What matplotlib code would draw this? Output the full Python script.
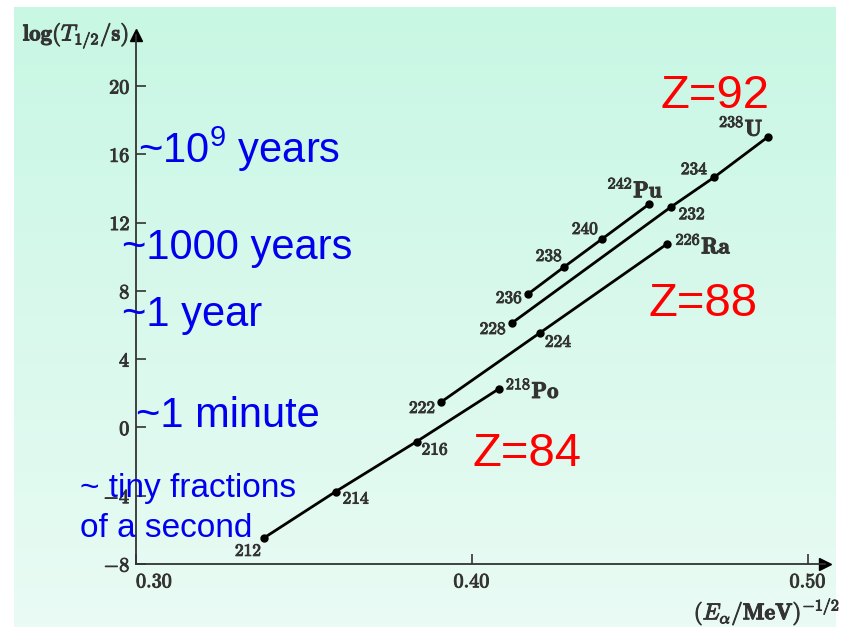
import numpy as np
import matplotlib
matplotlib.use('Agg')
import matplotlib.pyplot as plt
import matplotlib.patheffects as pe

W, H = 846, 630

# x = (E_alpha / MeV)^(-1/2), y = log10(T_1/2 / s)
po_iso = ['212', '214', '216', '218Po']
po_x = [0.3381, 0.3594, 0.3835, 0.4080]
po_y = [-6.47, -3.76, -0.83, 2.26]

ra_iso = ['222', '224', '226Ra']
ra_x = [0.3908, 0.4202, 0.4579]
ra_y = [1.49, 5.54, 10.73]

u_iso = ['228', '232', '234', '238U']
u_x = [0.4119, 0.4591, 0.4721, 0.4882]
u_y = [6.12, 12.90, 14.66, 17.04]

pu_iso = ['236', '238', '240', '242Pu']
pu_x = [0.4167, 0.4274, 0.4387, 0.4527]
pu_y = [7.82, 9.40, 11.04, 13.08]

y_ticks = [-8, -4, 0, 4, 8, 12, 16, 20]
x_ticks = [0.30, 0.40, 0.50]

# label placement next to each dot: (dx px, dy px, ha)
label_pos = {
    '212': (-2, -13, 'right'), '214': (7, -7, 'left'), '216': (5, -8, 'left'),
    '218Po': (6, -2, 'left'),
    '222': (-5, -6, 'right'), '224': (5, -9, 'left'), '226Ra': (8, -2, 'left'),
    '228': (-5, -6, 'right'), '232': (8, -7, 'left'), '234': (-6, 8, 'right'),
    '238U': (-5, 8, 'right'),
    '236': (-5, -4, 'right'), '238': (-1, 11, 'right'), '240': (-3, 10, 'right'),
    '242Pu': (-14, 14, 'center'),
}

ink = '#333333'
bold = [pe.withStroke(linewidth=0.7, foreground=ink)]


def iso_label(s):
    num = ''.join(c for c in s if c.isdigit())
    sym = s[len(num):]
    if sym:
        return r'$^{\mathbf{%s}}\mathbf{%s}$' % (num, sym), 16.5
    return r'$\mathbf{%s}$' % num, 12.5


def fx(px):
    return px / W


def fy(py):
    return 1 - py / H


plt.rcParams['mathtext.fontset'] = 'custom'
plt.rcParams['mathtext.rm'] = 'Liberation Sans'
plt.rcParams['font.family'] = ['Liberation Sans', 'DejaVu Sans']

fig = plt.figure(figsize=(W / 100, H / 100), dpi=100, facecolor='white')

# scanned-page mint background
bg = fig.add_axes([fx(14), fy(627), fx(835 - 14), (627 - 7) / H], zorder=0)
top = np.array([200, 247, 228]) / 255
bot = np.array([233, 251, 244]) / 255
t = np.linspace(0, 1, 200)[:, None, None]
grad = top * (1 - t) + bot * t
bg.imshow(grad, aspect='auto', extent=[0, 1, 0, 1])
bg.axis('off')

xlim = (0.30, 0.505)
ylim = (-8, 23.0)
ax_w = (xlim[1] - xlim[0]) * 3360 / W
ax_h = (ylim[1] - ylim[0]) * 17.07 / H
ax = fig.add_axes([fx(136), fy(564), ax_w, ax_h], zorder=1)
ax.set_facecolor('none')
ax.set_xlim(*xlim)
ax.set_ylim(*ylim)

for xs, ys, isos in [(po_x, po_y, po_iso), (ra_x, ra_y, ra_iso),
                     (u_x, u_y, u_iso), (pu_x, pu_y, pu_iso)]:
    ax.plot(xs, ys, color='black', lw=2.0, marker='o', ms=5, zorder=3)
    for x, y, s in zip(xs, ys, isos):
        dx, dy, ha = label_pos[s]
        txt, fs = iso_label(s)
        ax.annotate(txt, (x, y), xytext=(dx, dy), textcoords='offset pixels',
                    ha=ha, va='center', fontsize=fs, color=ink,
                    math_fontfamily='cm', path_effects=bold)

for side in ['top', 'right']:
    ax.spines[side].set_visible(False)
for side in ['left', 'bottom']:
    ax.spines[side].set_color(ink)
    ax.spines[side].set_linewidth(1.3)
ax.plot(0, 1, marker='^', ms=8, color='black', transform=ax.transAxes, clip_on=False)
ax.plot(1, 0, marker='>', ms=8, color='black', transform=ax.transAxes, clip_on=False)

ax.set_yticks(y_ticks)
ax.set_yticklabels([r'$\mathbf{%d}$' % v for v in y_ticks])
ax.set_xticks(x_ticks)
ax.set_xticklabels([r'$\mathbf{%.2f}$' % v for v in x_ticks])
ax.tick_params(direction='in', length=7, width=1.2, color=ink,
               labelcolor=ink, labelsize=14.5)
ax.tick_params(axis='x', pad=6)
ax.tick_params(axis='y', pad=4)
for lab in ax.get_xticklabels() + ax.get_yticklabels():
    lab.set_math_fontfamily('cm')
    lab.set_path_effects(bold)
ax.get_xticklabels()[0].set_ha('left')

fig.text(fx(129), fy(36), r'$\mathbf{log}(T_{1/2}/\mathbf{s})$', ha='right',
         va='center', fontsize=16.5, color=ink, math_fontfamily='cm',
         path_effects=bold)
fig.text(fx(840), fy(612), r'$(E_\alpha/\mathbf{MeV})^{\mathbf{-1/2}}$', ha='right',
         va='center', fontsize=16.5, color=ink, math_fontfamily='cm',
         path_effects=bold)

blue = '#0000ee'
fig.text(fx(138), fy(163), r'~10$^{9}$ years', fontsize=30, color=blue, va='baseline', zorder=5)
fig.text(fx(122), fy(259), '~1000 years', fontsize=30, color=blue, va='baseline', zorder=5)
fig.text(fx(122), fy(326), '~1 year', fontsize=30, color=blue, va='baseline', zorder=5)
fig.text(fx(136), fy(427), '~1 minute', fontsize=30, color=blue, va='baseline', zorder=5)
fig.text(fx(80), fy(497), '~ tiny fractions', fontsize=24, color=blue, va='baseline', zorder=5)
fig.text(fx(80), fy(537), 'of a second', fontsize=24, color=blue, va='baseline', zorder=5)

red = '#ff0000'
fig.text(fx(660), fy(108), 'Z=92', fontsize=34, color=red, va='baseline', zorder=5)
fig.text(fx(648), fy(316), 'Z=88', fontsize=34, color=red, va='baseline', zorder=5)
fig.text(fx(472), fy(466), 'Z=84', fontsize=34, color=red, va='baseline', zorder=5)

fig.savefig('out.png', dpi=100)
